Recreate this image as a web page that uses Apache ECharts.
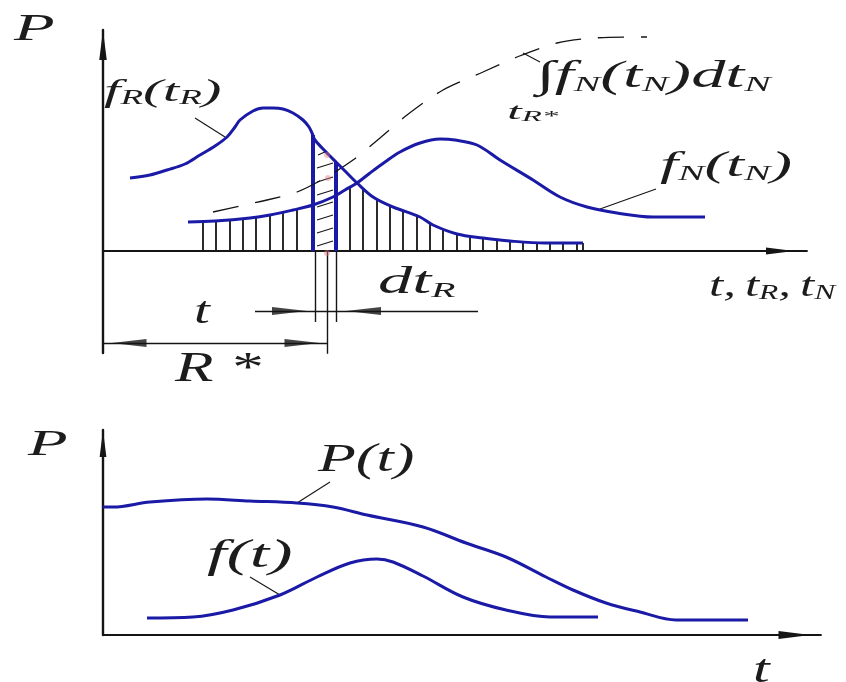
<!DOCTYPE html>
<html>
<head>
<meta charset="utf-8">
<script src="https://cdn.jsdelivr.net/npm/echarts@6/dist/echarts.min.js"></script>
<style>html,body{margin:0;padding:0;background:#fff}#c{width:846px;height:682px}</style>
</head>
<body>
<div id="c"></div>
<script>
// ---- Upper panel: densities of resistance and load (t units, P units) ----
const fR = [[2.7,7.3],[4.7,7.6],[6.4,8.1],[8.2,8.7],[9.7,9.6],[11.2,10.5],[12.4,11.4],[13.2,12.4],[13.7,13.1],[15.0,14.0],[16.0,14.3],[17.0,14.3],[18.0,14.2],[19.0,13.8],[20.0,13.1],[20.6,12.4],[20.9,11.8],[21.2,11.1],[22.4,9.8],[23.4,8.8],[24.4,7.8],[25.4,6.8],[27.0,5.4],[29.0,4.4],[31.7,3.4],[33.0,2.6],[35.4,1.7],[38.0,1.3],[40.7,1.0],[44.2,0.8],[48.0,0.8]];
const fN = [[8.5,2.9],[11.2,3.0],[14.7,3.3],[16.7,3.6],[19.0,4.1],[21.0,4.6],[23.0,5.4],[24.2,6.1],[25.4,6.8],[26.7,7.8],[28.2,8.9],[29.7,9.9],[31.7,10.8],[33.7,11.2],[35.2,11.1],[37.4,10.6],[39.7,9.1],[43.0,7.1],[45.7,5.4],[48.4,4.4],[51.4,3.8],[55.0,3.4],[60.2,3.4]];
const cumN = [[11.0,3.9],[13.7,4.5],[16.4,5.1],[19.4,5.9],[22.2,7.3],[25.0,9.1],[27.7,11.3],[30.4,13.6],[34.0,16.1],[38.0,17.9],[41.4,19.4],[45.4,20.8],[49.0,21.3],[54.4,21.4]];
// vertical hatching under the lower of the two densities
const hatchX   = [10.0,11.3,12.7,14.0,15.3,16.7,18.0,19.4,24.7,26.0,27.4,28.7,30.0,31.4,32.7,34.0,35.4,36.7,38.0,39.4,40.7,42.0,43.4,44.7,46.0,47.4,48.0];
const hatchTop = [3.0,3.0,3.1,3.3,3.35,3.6,3.9,4.2,6.4,6.3,5.2,4.55,4.0,3.5,2.8,2.2,1.7,1.5,1.3,1.15,1.0,0.9,0.85,0.8,0.8,0.8,0.8];
// elementary strip dt_R
const stripX   = [21.0, 23.3];
const stripTop = [11.6, 8.9];
const stripHatch = [[21.5,9.6,22.3,9.95],[21.4,8.3,23.0,8.8],[21.4,6.9,23.0,7.4],[21.4,5.6,23.0,6.1],[21.4,4.4,23.0,4.9],[21.4,3.1,23.0,3.6],[21.4,1.8,23.0,2.3],[21.4,0.5,23.0,1.0]];
const stripDots = [[22.4,9.6],[22.5,7.3],[22.4,-0.2]];
// dimension lines, extension lines and leaders
const extLines = [[21.2,0,21.2,-7.1],[22.4,0,22.4,-10.4],[23.3,0,23.3,-7.1]];
const dimLines = [[15.2,-6.0,37.5,-6.0],[0,-9.2,22.4,-9.2]];
const dimArrows = [[18.65,-6.0,0],[26.05,-6.0,180],[2.6,-9.2,180],[19.9,-9.2,0]];
const leadersTop = [[9.2,13.3,12.2,11.4],[49.7,4.2,55.3,6.2],[42.0,19.8,43.7,18.9]];

// ---- Lower panel: reliability and failure density ----
const Pt = [[0,12.8],[1.0,12.8],[4.7,13.3],[10.4,13.6],[14.7,13.4],[19.4,13.2],[23.0,12.8],[26.4,12.0],[32.0,10.8],[36.3,9.2],[40.3,7.8],[44.3,5.8],[47.0,4.5],[50.3,3.2],[53.7,2.3],[57.3,1.5],[64.5,1.5]];
const ft = [[4.4,1.7],[9.0,1.8],[13.0,2.5],[17.7,4.0],[21.4,5.8],[24.7,7.2],[27.4,7.6],[29.0,7.3],[32.0,5.9],[36.0,3.8],[40.3,2.5],[44.7,1.8],[49.5,1.8]];
const leadersBottom = [[19.4,13.2,22.7,15.3],[14.7,5.8,17.7,4.0]];

const BLUE = '#1a1aa6';
const INK = '#151515';
const TEXT = '#1c1c1c';
const FONT = '"Liberation Serif", "Times New Roman", serif';

function segs(list) { return list.map(s => ({ coords: [[s[0], s[1]], [s[2], s[3]]] })); }
function segSeries(list, xi, color, width) {
  return { type: 'lines', coordinateSystem: 'cartesian2d', xAxisIndex: xi, yAxisIndex: xi,
    polyline: false, silent: true, z: 3,
    lineStyle: { color: color, width: width, opacity: 1, curveness: 0 }, data: segs(list) };
}
function curve(data, xi, extra) {
  return Object.assign({ type: 'line', xAxisIndex: xi, yAxisIndex: xi, data: data, smooth: 0.35,
    showSymbol: false, symbol: 'none', silent: true, z: 5,
    lineStyle: { color: BLUE, width: 3 } }, extra || {});
}
const AXIS_ARROW = 'path://M5,0 L10,40 L0,40 Z';
function axisLine(width, size, offset) {
  return { show: true, onZero: true, symbol: ['none', AXIS_ARROW], symbolSize: size, symbolOffset: [0, offset],
    lineStyle: { color: INK, width: width } };
}
function valueAxis(gi, min, max, line) {
  return { type: 'value', gridIndex: gi, min: min, max: max, axisLine: line,
    axisTick: { show: false }, axisLabel: { show: false }, splitLine: { show: false } };
}

function rich(main, sub) {
  return {
    m: { fontSize: main, fontStyle: 'italic', fontFamily: FONT, fill: TEXT },
    s: { fontSize: sub, fontStyle: 'italic', fontFamily: FONT, fill: TEXT, verticalAlign: 'bottom' },
    g: { fontSize: main, fontStyle: 'italic', fontFamily: FONT, fill: TEXT, width: 6 }
  };
}
function label(x, y, text, main, sub, sx) {
  return { type: 'text', x: x, y: y, scaleX: sx, silent: true, z: 20,
    style: { text: text, rich: rich(main, sub || main), align: 'left', verticalAlign: 'middle' } };
}

const chart = echarts.init(document.getElementById('c'));
chart.setOption({
  animation: false,
  backgroundColor: '#ffffff',
  grid: [
    { left: 103, right: 39, top: 30, bottom: 329 },
    { left: 103, right: 25, top: 430, bottom: 47 }
  ],
  xAxis: [
    valueAxis(0, 0, 70.4, axisLine(1.8, [7, 34], -27)),
    valueAxis(1, 0, 71.8, axisLine(1.8, [8, 37], -26.5))
  ],
  yAxis: [
    valueAxis(0, -10.2, 22.1, axisLine(2.4, [9, 30], -15)),
    valueAxis(1, 0, 20.5, axisLine(2.4, [9, 27], -13.5))
  ],
  series: [
    segSeries(hatchX.map((x, i) => [x, 0, x, hatchTop[i]]), 0, INK, 1.8),
    segSeries(stripHatch, 0, INK, 1.1),
    segSeries(stripX.map((x, i) => [x, 0, x, stripTop[i]]), 0, BLUE, 4),
    segSeries(extLines, 0, INK, 1.4),
    segSeries(dimLines, 0, INK, 1.4),
    segSeries(leadersTop, 0, INK, 1.1),
    { type: 'scatter', xAxisIndex: 0, yAxisIndex: 0, silent: true, z: 6,
      symbol: 'path://M0,0 L40,5 L0,10 Z', symbolSize: [35, 8],
      itemStyle: { color: INK },
      data: dimArrows.map(a => ({ value: [a[0], a[1]], symbolRotate: a[2] })) },
    { type: 'scatter', xAxisIndex: 0, yAxisIndex: 0, silent: true, z: 7,
      symbol: 'circle', symbolSize: 6, itemStyle: { color: 'rgba(225,120,135,0.55)' }, data: stripDots },
    curve(cumN, 0, { smooth: 0.3, z: 4, lineStyle: { color: INK, width: 1.3, type: [26, 17] } }),
    curve(fR, 0),
    curve(fN, 0),
    segSeries(leadersBottom, 1, INK, 1.1),
    curve(Pt, 1),
    curve(ft, 1)
  ],
  graphic: [
    label(14, 30, '{m|P}', 38, 38, 1.75),
    label(104, 93, '{m|f}{s|R}{m|(t}{s|R}{m|)}', 32, 20, 1.85),
    label(536, 77, '{m|∫f}{s|N}{m|(t}{s|N}{m|)dt}{s|N}', 38, 22, 1.8),
    label(507, 113, '{m|t}{s|R*}', 24, 15, 2.2),
    label(660, 167, '{m|f}{s|N}{m|(t}{s|N}{m|)}', 36, 22, 1.8),
    label(378, 283, '{m|dt}{s|R}', 38, 22, 1.8),
    label(709, 287, '{m|t,}{g| }{m|t}{s|R}{m|,}{g| }{m|t}{s|N}', 34, 21, 1.5),
    label(194, 313, '{m|t}', 38, 38, 1.5),
    label(175, 370, '{m|R *}', 42, 42, 1.5),
    label(28, 446, '{m|P}', 36, 36, 1.8),
    label(318, 460, '{m|P(t)}', 40, 40, 1.55),
    label(207, 556, '{m|f(t)}', 40, 40, 1.75),
    label(753, 671, '{m|t}', 40, 40, 1.5)
  ]
});
</script>
</body>
</html>
